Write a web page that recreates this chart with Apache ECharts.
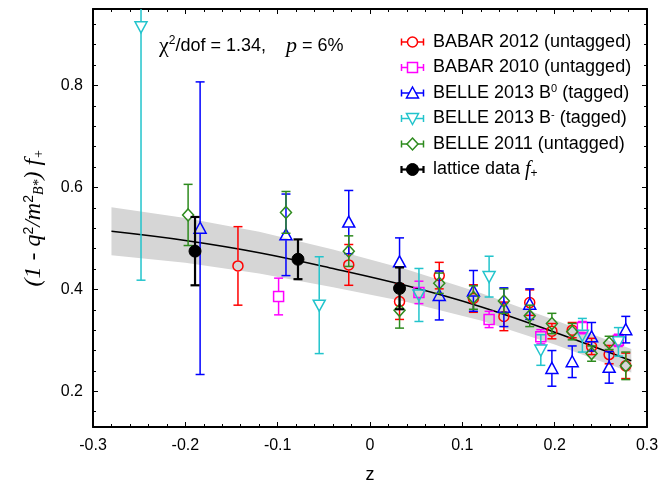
<!DOCTYPE html>
<html>
<head>
<meta charset="utf-8">
<script src="https://cdn.jsdelivr.net/npm/echarts@6/dist/echarts.min.js"></script>
<style>
  html, body { margin: 0; padding: 0; background: #fff; }
  #chart { width: 668px; height: 489px; }
</style>
</head>
<body>
<div id="chart"></div>
<script>
// Each point: [z, value, error]
const babar2012 = [
  [-0.143, 0.446, 0.077], [-0.023, 0.448, 0.040], [0.032, 0.376, 0.035],
  [0.075, 0.427, 0.026], [0.112, 0.382, 0.027], [0.145, 0.347, 0.028],
  [0.173, 0.374, 0.025], [0.197, 0.318, 0.015], [0.219, 0.320, 0.015],
  [0.240, 0.288, 0.016], [0.259, 0.272, 0.018], [0.277, 0.250, 0.025]
];
const babar2010 = [
  [-0.099, 0.386, 0.036], [0.053, 0.394, 0.022], [0.129, 0.341, 0.016],
  [0.185, 0.307, 0.014], [0.230, 0.325, 0.012], [0.269, 0.300, 0.012]
];
const belle2013B0 = [
  [-0.184, 0.520, 0.287], [-0.091, 0.507, 0.080], [-0.023, 0.532, 0.062],
  [0.032, 0.454, 0.047], [0.075, 0.388, 0.048], [0.112, 0.397, 0.040],
  [0.145, 0.365, 0.038], [0.173, 0.371, 0.030], [0.197, 0.245, 0.035],
  [0.219, 0.258, 0.031], [0.240, 0.307, 0.028], [0.259, 0.247, 0.031],
  [0.277, 0.321, 0.026]
];
const belle2013Bm = [
  [-0.248, 0.915, 0.497], [-0.055, 0.369, 0.095], [0.053, 0.389, 0.052],
  [0.129, 0.425, 0.040], [0.185, 0.281, 0.030], [0.230, 0.310, 0.033],
  [0.269, 0.297, 0.028]
];
const belle2011 = [
  [-0.197, 0.546, 0.060], [-0.091, 0.551, 0.041], [-0.023, 0.475, 0.030],
  [0.032, 0.359, 0.035], [0.075, 0.412, 0.020], [0.112, 0.384, 0.023],
  [0.145, 0.377, 0.024], [0.173, 0.348, 0.021], [0.197, 0.333, 0.020],
  [0.219, 0.317, 0.016], [0.240, 0.274, 0.015], [0.259, 0.295, 0.013],
  [0.277, 0.250, 0.027]
];
const latticeData = [
  [-0.1895, 0.475, 0.067], [-0.078, 0.459, 0.039], [0.032, 0.402, 0.041]
];

// Fit curve and its error band
const fitZ = [-0.280, -0.200, -0.120, -0.040, 0.040, 0.120, 0.200, 0.283];
const fitF = [0.514, 0.496, 0.472, 0.441, 0.407, 0.366, 0.316, 0.260];
const fitErr = [0.047, 0.044, 0.041, 0.037, 0.032, 0.027, 0.024, 0.023];

// Axis ticks
const xMajorStep = 0.1;
const yMajorTicks = [0.2, 0.4, 0.6, 0.8];
const yMinorTicks = [0.16, 0.24, 0.28, 0.32, 0.36, 0.44, 0.48, 0.52, 0.56,
                     0.64, 0.68, 0.72, 0.76, 0.84, 0.88, 0.92];

const SANS = "'Liberation Sans', Arial, Helvetica, sans-serif";
const SERIF = "'Liberation Serif', 'Times New Roman', serif";

const datasets = [
  { name: 'BABAR 2012 (untagged)', text: 'BABAR 2012 (untagged)', data: babar2012, color: '#ff0000', marker: 'circle' },
  { name: 'BABAR 2010 (untagged)', text: 'BABAR 2010 (untagged)', data: babar2010, color: '#ff00ff', marker: 'square' },
  { name: 'BELLE 2013 B0 (tagged)', text: 'BELLE 2013 B{sup|0} (tagged)', data: belle2013B0, color: '#0000ff', marker: 'up' },
  { name: 'BELLE 2013 B- (tagged)', text: 'BELLE 2013 B{sup|-} (tagged)', data: belle2013Bm, color: '#22c4cc', marker: 'down' },
  { name: 'BELLE 2011 (untagged)', text: 'BELLE 2011 (untagged)', data: belle2011, color: '#2e8b1e', marker: 'diamond' },
  { name: 'lattice data f+', text: 'lattice data {it|f}{sub|+}', data: latticeData, color: '#000000', marker: 'dot' }
];

// Marker shape centred on (cx, cy)
function markerEl(kind, cx, cy, color) {
  const hollow = { stroke: color, lineWidth: 1.5, fill: 'none' };
  switch (kind) {
    case 'circle':
      return { type: 'circle', shape: { cx, cy, r: 5 }, style: hollow };
    case 'square':
      return { type: 'rect', shape: { x: cx - 5, y: cy - 5, width: 10, height: 10 }, style: hollow };
    case 'up':
      return { type: 'polygon', shape: { points: [[cx, cy - 6], [cx + 6, cy + 5], [cx - 6, cy + 5]] }, style: hollow };
    case 'down':
      return { type: 'polygon', shape: { points: [[cx, cy + 6], [cx + 6, cy - 5], [cx - 6, cy - 5]] }, style: hollow };
    case 'diamond':
      return { type: 'polygon', shape: { points: [[cx, cy - 6], [cx + 5.5, cy], [cx, cy + 6], [cx - 5.5, cy]] }, style: hollow };
    default:
      return { type: 'circle', shape: { cx, cy, r: 6 }, style: { fill: color, stroke: color, lineWidth: 1 } };
  }
}

function errorBarRenderer(ds) {
  const isDot = ds.marker === 'dot';
  const lw = isDot ? 2.2 : 1.5;
  const cap = 4.5;
  const gap = isDot ? 0 : 5.5;
  return function (params, api) {
    const z = api.value(0), f = api.value(1), e = api.value(2);
    const p = api.coord([z, f]);
    const yTop = api.coord([z, f + e])[1];
    const yBot = api.coord([z, f - e])[1];
    const st = { stroke: ds.color, lineWidth: lw, fill: 'none' };
    const kids = [];
    if (yTop < p[1] - gap) kids.push({ type: 'line', shape: { x1: p[0], y1: yTop, x2: p[0], y2: p[1] - gap }, style: st });
    if (yBot > p[1] + gap) kids.push({ type: 'line', shape: { x1: p[0], y1: p[1] + gap, x2: p[0], y2: yBot }, style: st });
    kids.push({ type: 'line', shape: { x1: p[0] - cap, y1: yTop, x2: p[0] + cap, y2: yTop }, style: st });
    kids.push({ type: 'line', shape: { x1: p[0] - cap, y1: yBot, x2: p[0] + cap, y2: yBot }, style: st });
    kids.push(markerEl(ds.marker, p[0], p[1], ds.color));
    return { type: 'group', children: kids };
  };
}

// Band polygon: upper edge left to right, then lower edge right to left
function bandRenderer(params, api) {
  if (params.dataIndex !== 0) return null;
  const pts = [];
  for (let i = 0; i < fitZ.length; i++) pts.push(api.coord([fitZ[i], fitF[i] + fitErr[i]]));
  for (let i = fitZ.length - 1; i >= 0; i--) pts.push(api.coord([fitZ[i], fitF[i] - fitErr[i]]));
  return { type: 'polygon', shape: { points: pts }, style: { fill: '#d6d6d6', stroke: 'none' } };
}

const series = [
  {
    type: 'custom', name: 'band', clip: true, silent: true,
    renderItem: bandRenderer,
    data: fitZ.map((z, i) => [z, fitF[i]]),
    z: 1
  },
  {
    type: 'line', name: 'fit', smooth: 0.4, showSymbol: false, silent: true,
    data: fitZ.map((z, i) => [z, fitF[i]]),
    lineStyle: { color: '#000', width: 1.6 },
    z: 2
  }
];
datasets.forEach((ds, k) => {
  series.push({
    type: 'custom', name: ds.name, clip: true,
    renderItem: errorBarRenderer(ds),
    encode: { x: 0, y: 1 },
    data: ds.data,
    z: 3 + k
  });
});

// Legend drawn as graphic rows
const legendIconX = 412.5, legendTextX = 433, legendY0 = 42, legendStep = 25.5;
const legendGraphics = [];
datasets.forEach((ds, i) => {
  const y = legendY0 + legendStep * i;
  const isDot = ds.marker === 'dot';
  const st = { stroke: ds.color, lineWidth: isDot ? 2.2 : 1.5 };
  legendGraphics.push({ type: 'line', shape: { x1: legendIconX - 11, y1: y, x2: legendIconX + 11, y2: y }, style: st });
  legendGraphics.push({ type: 'line', shape: { x1: legendIconX - 11, y1: y - 3.5, x2: legendIconX - 11, y2: y + 3.5 }, style: st });
  legendGraphics.push({ type: 'line', shape: { x1: legendIconX + 11, y1: y - 3.5, x2: legendIconX + 11, y2: y + 3.5 }, style: st });
  const m = markerEl(ds.marker, legendIconX, y, ds.color);
  if (!isDot) m.style = Object.assign({}, m.style, { fill: '#fff' });
  legendGraphics.push(m);
  legendGraphics.push({
    type: 'text', x: legendTextX, y: y,
    style: {
      text: ds.text, fill: '#000', font: '18px ' + SANS,
      align: 'left', verticalAlign: 'middle',
      rich: {
        sup: { fontSize: 11, fontFamily: SANS, verticalAlign: 'top', padding: [0, 0, 8, 0] },
        sub: { fontSize: 12, fontFamily: SANS, verticalAlign: 'bottom', padding: [8, 0, 0, 0] },
        it: { fontSize: 20, fontFamily: SERIF, fontStyle: 'italic' }
      }
    }
  });
});

const fitStatText = {
  type: 'text', x: 159, y: 46,
  style: {
    text: '{chi|χ}{sup|2}/dof = 1.34,    {it|p} = 6%',
    fill: '#000', font: '18px ' + SANS, align: 'left', verticalAlign: 'middle',
    rich: {
      chi: { fontSize: 22, fontFamily: SERIF },
      sup: { fontSize: 12, fontFamily: SANS, verticalAlign: 'top', padding: [0, 0, 10, 0] },
      it: { fontSize: 22, fontFamily: SERIF, fontStyle: 'italic' }
    }
  }
};

const axisLineStyle = { show: true, onZero: false, lineStyle: { color: '#000', width: 2 } };
const fmtX = v => { const r = Math.round(v * 10) / 10; return r === 0 ? '0' : r.toFixed(1); };

const yBase = { type: 'value', min: 0.13, max: 0.95, splitLine: { show: false } };

const option = {
  animation: false,
  backgroundColor: '#fff',
  grid: { left: 93, right: 21, top: 9, bottom: 62 },
  xAxis: [
    {
      type: 'value', position: 'bottom', min: -0.3, max: 0.3, interval: xMajorStep,
      axisLine: axisLineStyle,
      axisTick: { inside: true, length: 5, lineStyle: { color: '#000', width: 1 } },
      minorTick: { show: true, splitNumber: 5, length: 3, lineStyle: { color: '#000', width: 1 } },
      axisLabel: { color: '#000', fontSize: 16, fontFamily: SANS, margin: 11, formatter: fmtX },
      splitLine: { show: false }, minorSplitLine: { show: false },
      name: 'z', nameLocation: 'middle', nameGap: 39,
      nameTextStyle: { color: '#000', fontSize: 18, fontFamily: SANS }
    },
    {
      type: 'value', position: 'top', min: -0.3, max: 0.3, interval: xMajorStep,
      axisLine: axisLineStyle,
      axisTick: { inside: true, length: 5, lineStyle: { color: '#000', width: 1 } },
      minorTick: { show: true, splitNumber: 5, length: 3, lineStyle: { color: '#000', width: 1 } },
      axisLabel: { show: false },
      splitLine: { show: false }, minorSplitLine: { show: false }
    }
  ],
  yAxis: [
    Object.assign({}, yBase, {
      position: 'left',
      axisLine: axisLineStyle,
      axisTick: { inside: true, length: 5, customValues: yMajorTicks, lineStyle: { color: '#000', width: 1 } },
      axisLabel: {
        customValues: yMajorTicks, color: '#000', fontSize: 16, fontFamily: SANS, margin: 10,
        formatter: v => v.toFixed(1)
      },
      name: '(1 - q{sup|2}/m{sup|2}{sub|B*}) f{sub|+}',
      nameLocation: 'middle', nameRotate: 90, nameGap: 47,
      nameTextStyle: {
        color: '#000', fontSize: 24, fontFamily: SERIF, fontStyle: 'italic',
        rich: {
          sup: { fontSize: 14, fontFamily: SANS, fontStyle: 'normal', verticalAlign: 'top', padding: [0, 0, 10, 0] },
          sub: { fontSize: 14, fontFamily: SERIF, fontStyle: 'italic', verticalAlign: 'bottom', padding: [10, 0, 0, 0] }
        }
      }
    }),
    Object.assign({}, yBase, {
      position: 'left',
      axisLine: { show: false, onZero: false },
      axisTick: { inside: true, length: 3, customValues: yMinorTicks, lineStyle: { color: '#000', width: 1 } },
      axisLabel: { show: false }
    }),
    Object.assign({}, yBase, {
      position: 'right',
      axisLine: axisLineStyle,
      axisTick: { inside: true, length: 5, customValues: yMajorTicks, lineStyle: { color: '#000', width: 1 } },
      axisLabel: { show: false }
    }),
    Object.assign({}, yBase, {
      position: 'right',
      axisLine: { show: false, onZero: false },
      axisTick: { inside: true, length: 3, customValues: yMinorTicks, lineStyle: { color: '#000', width: 1 } },
      axisLabel: { show: false }
    })
  ],
  series: series,
  graphic: [fitStatText].concat(legendGraphics)
};

const chart = echarts.init(document.getElementById('chart'), null, { renderer: 'canvas' });
chart.setOption(option);
</script>
</body>
</html>
